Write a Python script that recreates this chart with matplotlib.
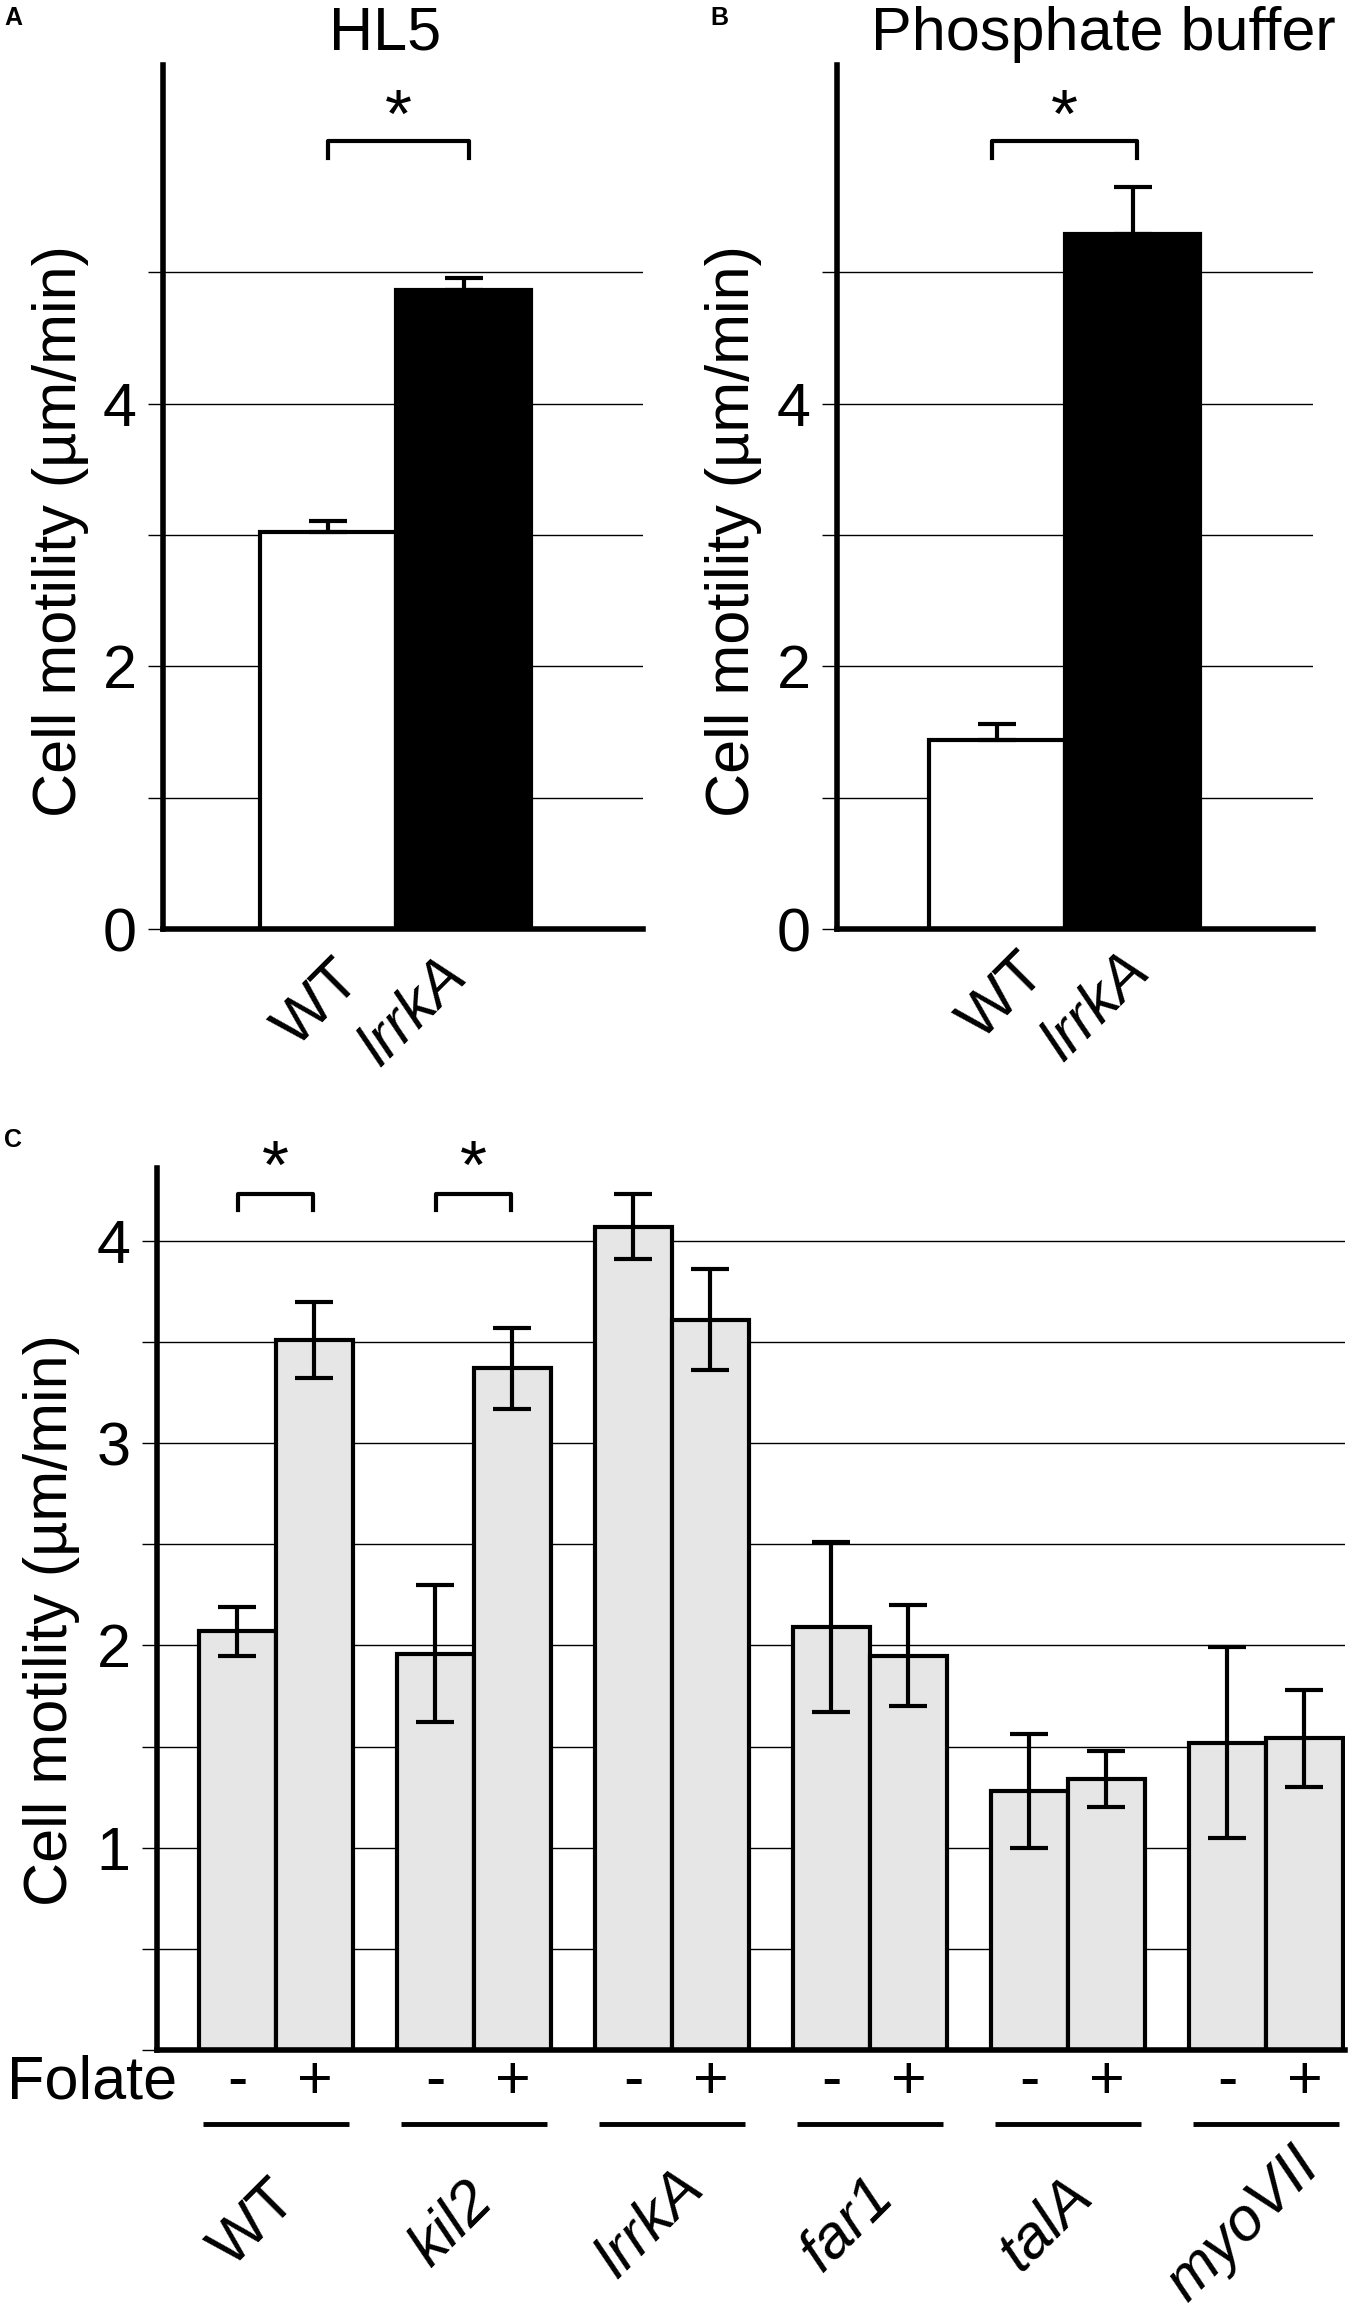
import numpy as np
from matplotlib import pyplot as plt
from matplotlib.ticker import FixedLocator, MultipleLocator, FuncFormatter

plt.rcParams['font.family'] = ['Liberation Sans', 'DejaVu Sans']

# panels A and B
strains_ab = ['WT', 'lrrkA']
hl5_mean = [3.02, 4.87]
hl5_err = [0.09, 0.09]
pb_mean = [1.44, 5.29]
pb_err = [0.12, 0.36]

# panel C
strains_c = ['WT', 'kil2', 'lrrkA', 'far1', 'talA', 'myoVII']
minus_mean = [2.07, 1.96, 4.07, 2.09, 1.28, 1.52]
minus_err = [0.12, 0.34, 0.16, 0.42, 0.28, 0.47]
plus_mean = [3.51, 3.37, 3.61, 1.95, 1.34, 1.54]
plus_err = [0.19, 0.20, 0.25, 0.25, 0.14, 0.24]
significant = [True, True, False, False, False, False]

FS = 44
W, H = 1350, 2322
fig = plt.figure(figsize=(W / 100, H / 100), dpi=100)


def style_axis(ax, locator, labeller):
    for side in ('top', 'right'):
        ax.spines[side].set_visible(False)
    for side in ('left', 'bottom'):
        ax.spines[side].set_linewidth(4)
    ax.yaxis.set_major_locator(locator)
    ax.yaxis.set_major_formatter(FuncFormatter(labeller))
    ax.tick_params(axis='y', length=11, width=1, pad=8, labelsize=FS)
    ax.set_xticks([])
    ax.grid(axis='y', color='black', linewidth=1)
    ax.set_axisbelow(True)


def even_only(v, pos):
    return f'{v:.0f}' if round(v) % 2 == 0 else ''


def two_bar_panel(rect, xlim, means, errs, title, title_x, letter, letter_x, ylab_x,
                  bracket, label_pos):
    ax = fig.add_axes(rect)
    x = np.arange(len(strains_ab))
    ax.bar(x, means, width=1.0, color=['white', 'black'], edgecolor='black',
           linewidth=3, zorder=2)
    ax.errorbar(x, means, yerr=[[0, 0], errs], fmt='none', ecolor='black',
                elinewidth=3, capsize=14, capthick=3, zorder=3)
    ax.set_xlim(*xlim)
    ax.set_ylim(0, 6.58)
    style_axis(ax, FixedLocator([0, 1, 2, 3, 4, 5]), even_only)

    ax.plot([bracket[0], bracket[0], bracket[1], bracket[1]], [5.87, 6.0, 6.0, 5.87],
            color='black', lw=3, clip_on=False)
    ax.text(sum(bracket) / 2, 6.17, '*', ha='center', va='center', fontsize=50)

    for (xi, yi), name in zip(label_pos, strains_ab):
        ax.text(xi, yi, name, transform=ax.get_xaxis_transform(), rotation=45,
                ha='center', va='center', fontsize=FS,
                style='normal' if name == 'WT' else 'italic')

    fig.text(title_x, 1 - 50 / H, title, ha='center', va='baseline', fontsize=FS)
    fig.text(letter_x, 1 - 25 / H, letter, ha='left', va='baseline',
             fontsize=18, fontweight='bold')
    fig.text(ylab_x, 1 - 531 / H, 'Cell motility (µm/min)', rotation=90,
             ha='center', va='center', fontsize=FS)
    return ax


two_bar_panel([163 / W, 1 - 929 / H, 480 / W, 864 / H], (-1.21, 2.32),
              hl5_mean, hl5_err, 'HL5', 385 / W, 'A', 4 / W, 61 / W, (0.0, 1.04),
              [(-0.07, -0.087), (0.63, -0.097)])
two_bar_panel([837 / W, 1 - 929 / H, 476 / W, 864 / H], (-1.18, 2.33),
              pb_mean, pb_err, 'Phosphate buffer', 1103 / W, 'B', 710 / W, 733 / W,
              (-0.04, 1.03), [(0.05, -0.079), (0.73, -0.091)])

# panel C
axc = fig.add_axes([157 / W, 1 - 2050 / H, 1188 / W, 882 / H])
x = np.arange(len(strains_c))
bw = 0.39
bar_kw = dict(width=bw, color='#e6e6e6', edgecolor='black', linewidth=3, zorder=2)
err_kw = dict(fmt='none', ecolor='black', elinewidth=3, capsize=14, capthick=3, zorder=3)
axc.bar(x - bw / 2, minus_mean, **bar_kw)
axc.bar(x + bw / 2, plus_mean, **bar_kw)
axc.errorbar(x - bw / 2, minus_mean, yerr=minus_err, **err_kw)
axc.errorbar(x + bw / 2, plus_mean, yerr=plus_err, **err_kw)
axc.set_xlim(-0.6, 5.4)
axc.set_ylim(0, 4.36)
style_axis(axc, MultipleLocator(0.5),
           lambda v, pos: f'{v:.0f}' if v > 0 and abs(v - round(v)) < 1e-6 else '')

for i, sig in enumerate(significant):
    if sig:
        axc.plot([i - 0.19, i - 0.19, i + 0.19, i + 0.19], [4.15, 4.23, 4.23, 4.15],
                 color='black', lw=3, clip_on=False)
        axc.text(i, 4.35, '*', ha='center', va='center', fontsize=50, clip_on=False)

xt = axc.get_xaxis_transform()
for i, name in enumerate(strains_c):
    axc.text(i - bw / 2, -0.037, '-', transform=xt, ha='center', va='center', fontsize=FS)
    axc.text(i + bw / 2, -0.037, '+', transform=xt, ha='center', va='center', fontsize=FS)
    axc.plot([i - 0.37, i + 0.37], [-0.084, -0.084], transform=xt, color='black',
             lw=3.5, clip_on=False, solid_capstyle='butt')
    axc.text(i - 0.11, -0.198, name, transform=xt, rotation=45, ha='center',
             va='center', fontsize=FS, style='normal' if name == 'WT' else 'italic')

fig.text(7 / W, 1 - 2083 / H, 'Folate', ha='left', va='center', fontsize=FS)
fig.text(4 / W, 1 - 1147 / H, 'C', ha='left', va='baseline', fontsize=18,
         fontweight='bold')
fig.text(52 / W, 1 - 1620 / H, 'Cell motility (µm/min)', rotation=90,
         ha='center', va='center', fontsize=FS)

fig.savefig('out.png', dpi=100)
plt.close()
